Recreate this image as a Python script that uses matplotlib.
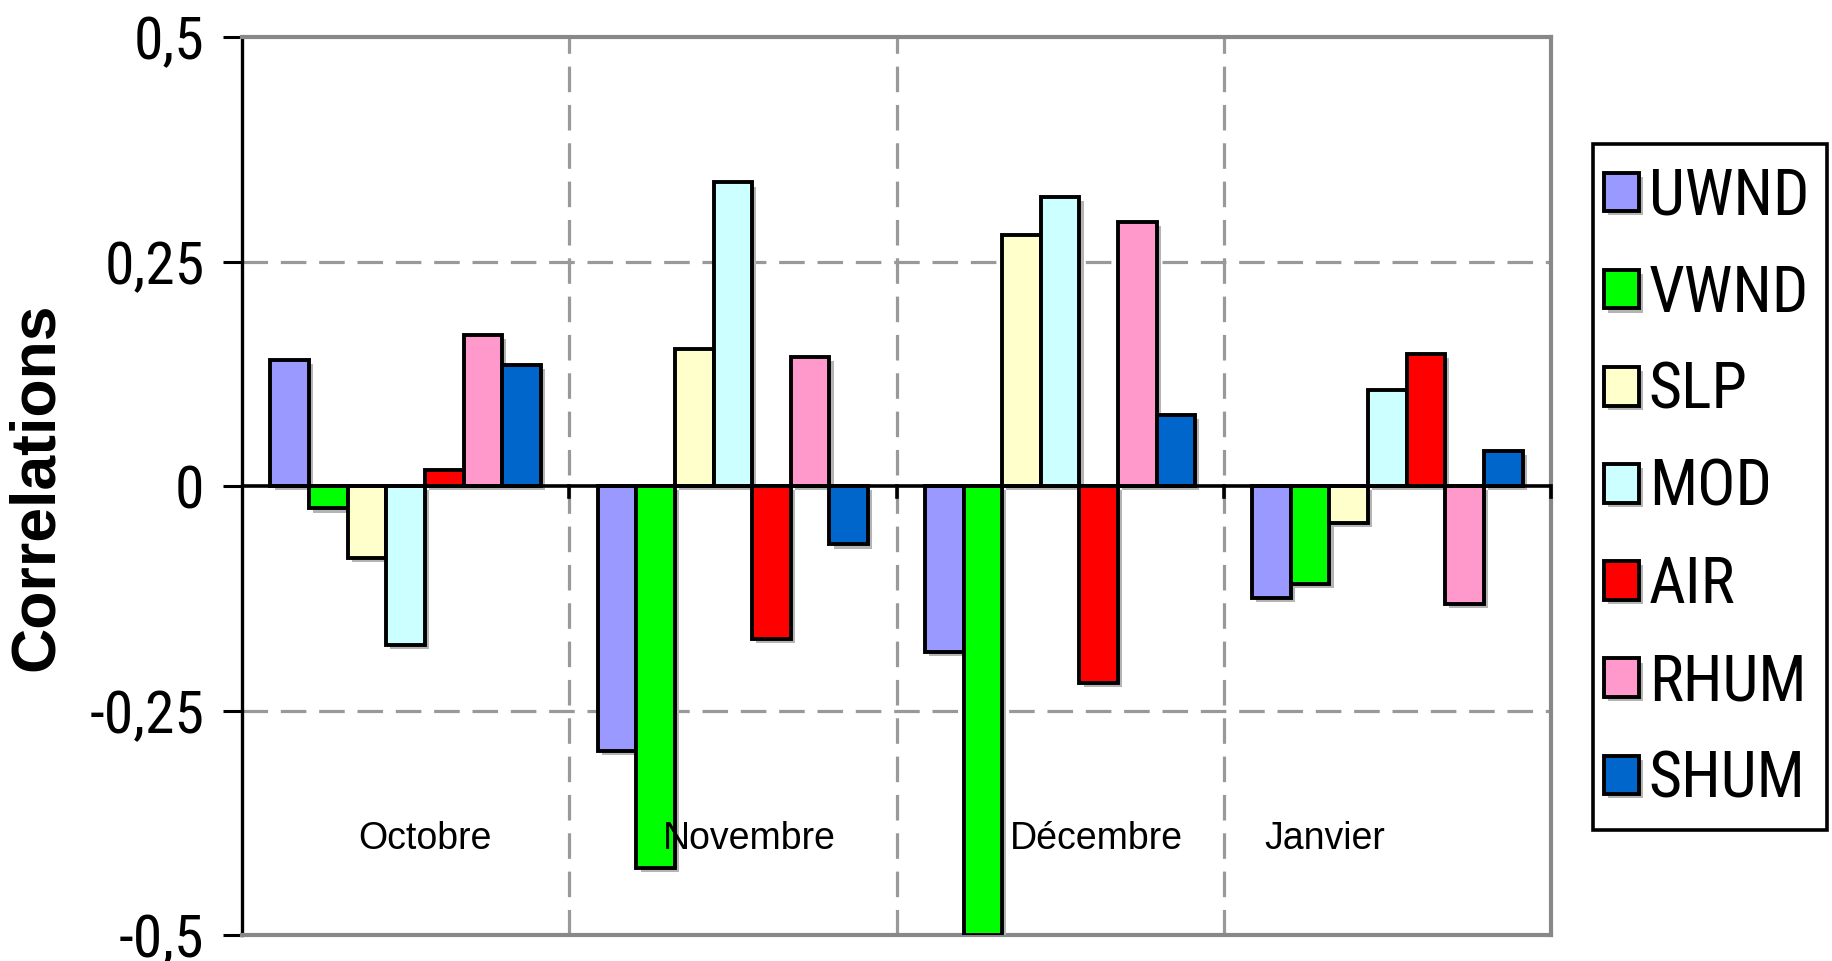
import matplotlib
matplotlib.use("Agg")
import matplotlib.pyplot as plt
import matplotlib.patheffects as pe
from matplotlib import font_manager
from matplotlib.patches import Rectangle
import numpy as np

# Corrélations mensuelles par variable
mois = ['Octobre', 'Novembre', 'Décembre', 'Janvier']
variables = ['UWND', 'VWND', 'SLP', 'MOD', 'AIR', 'RHUM', 'SHUM']
couleurs = ['#9999FF', '#00FF00', '#FFFFCC', '#CCFFFF', '#FF0000', '#FF99CC', '#0066CC']

uwnd = [0.14, -0.295, -0.185, -0.125]
vwnd = [-0.025, -0.425, -0.5, -0.109]
slp = [-0.08, 0.153, 0.279, -0.041]
mod = [-0.177, 0.338, 0.322, 0.107]
air = [0.018, -0.170, -0.219, 0.147]
rhum = [0.168, 0.144, 0.294, -0.131]
shum = [0.135, -0.065, 0.079, 0.039]

# position des libellés de mois (dans le graphique, en bas)
pos_mois = [0.06, 1.05, 2.11, 2.81]
y_mois = -0.393

yticks = [0.5, 0.25, 0, -0.25, -0.5]
ytick_labels = ['0,5', '0,25', '0', '-0,25', '-0,5']

# police étroite si disponible
noms = {f.name for f in font_manager.fontManager.ttflist}
narrow = 'Liberation Sans'
for cand in ['Liberation Sans Narrow', 'Arial Narrow', 'Roboto Condensed',
             'Open Sans Condensed', 'Noto Sans Condensed', 'DejaVu Sans Condensed']:
    if cand in noms:
        narrow = cand
        break

plt.rcParams['font.family'] = ['Liberation Sans', 'DejaVu Sans']

fig = plt.figure(figsize=(18.33, 9.61), dpi=100)
W, H = 1833, 961
ax = fig.add_axes([242 / W, 1 - 935 / H, (1551 - 242) / W, (935 - 37) / H])

series = [uwnd, vwnd, slp, mod, air, rhum, shum]
x = np.arange(len(mois))
largeur = 0.118
ombre = [pe.SimplePatchShadow(offset=(3, -3), shadow_rgbFace='#b4b4b4', alpha=1.0), pe.Normal()]
handles = []
for i, (nom, vals, c) in enumerate(zip(variables, series, couleurs)):
    b = ax.bar(x + (i - 3) * largeur, vals, largeur, color=c, edgecolor='black',
               linewidth=2.8, label=nom, zorder=3)
    for p in b.patches:
        p.set_path_effects(ombre)
    handles.append(b)

ax.set_xlim(-0.5, 3.5)
ax.set_ylim(-0.5, 0.5)

# quadrillage en tirets
for yv in [0.25, -0.25]:
    ax.axhline(yv, color='#999999', lw=2.3, dashes=(8, 4), zorder=1)
for xv in [0.5, 1.5, 2.5]:
    ax.axvline(xv, color='#999999', lw=2.3, dashes=(8, 4), zorder=1)

# ligne du zéro et graduations de l'axe des catégories
ax.axhline(0, color='black', lw=2.6, zorder=4)
for xv in [0.5, 1.5, 2.5, 3.5]:
    ax.plot([xv, xv], [0, -0.012], color='black', lw=2.6, zorder=4, clip_on=False)

ax.set_xticks([])
ax.set_yticks(yticks)
taille_ticks = 43 if narrow != 'Liberation Sans' else 33
ax.set_yticklabels(ytick_labels, fontfamily=narrow, fontsize=taille_ticks)
ax.tick_params(axis='y', length=14, width=2.2, pad=13, color='black')

ax.spines['left'].set_color('black')
ax.spines['left'].set_linewidth(2.4)
for s in ['top', 'right', 'bottom']:
    ax.spines[s].set_color('#888888')
    ax.spines[s].set_linewidth(3)

for m, px in zip(mois, pos_mois):
    ax.text(px, y_mois, m, ha='center', va='center', fontsize=27, zorder=5)

fig.text(36 / W, 1 - 487 / H, 'Correlations', rotation=90, ha='center', va='center',
         fontsize=45, fontweight='bold')

# légende sans cadre + cadre dessiné à part
taille_leg = 46 if narrow != 'Liberation Sans' else 37
leg = ax.legend(handles=handles, labels=variables, loc='center left',
                bbox_to_anchor=(1604 / W, 1 - 488 / H), bbox_transform=fig.transFigure,
                prop={'family': narrow, 'size': taille_leg}, frameon=False,
                handlelength=0.55, handleheight=0.55, handletextpad=0.15,
                labelspacing=0.55, borderpad=0, borderaxespad=0)
fig.patches.append(Rectangle((1593 / W, 1 - 830 / H), (1827 - 1593) / W, (830 - 144) / H,
                             transform=fig.transFigure, facecolor='none',
                             edgecolor='black', linewidth=2.6))

fig.savefig('out.png', dpi=100)
